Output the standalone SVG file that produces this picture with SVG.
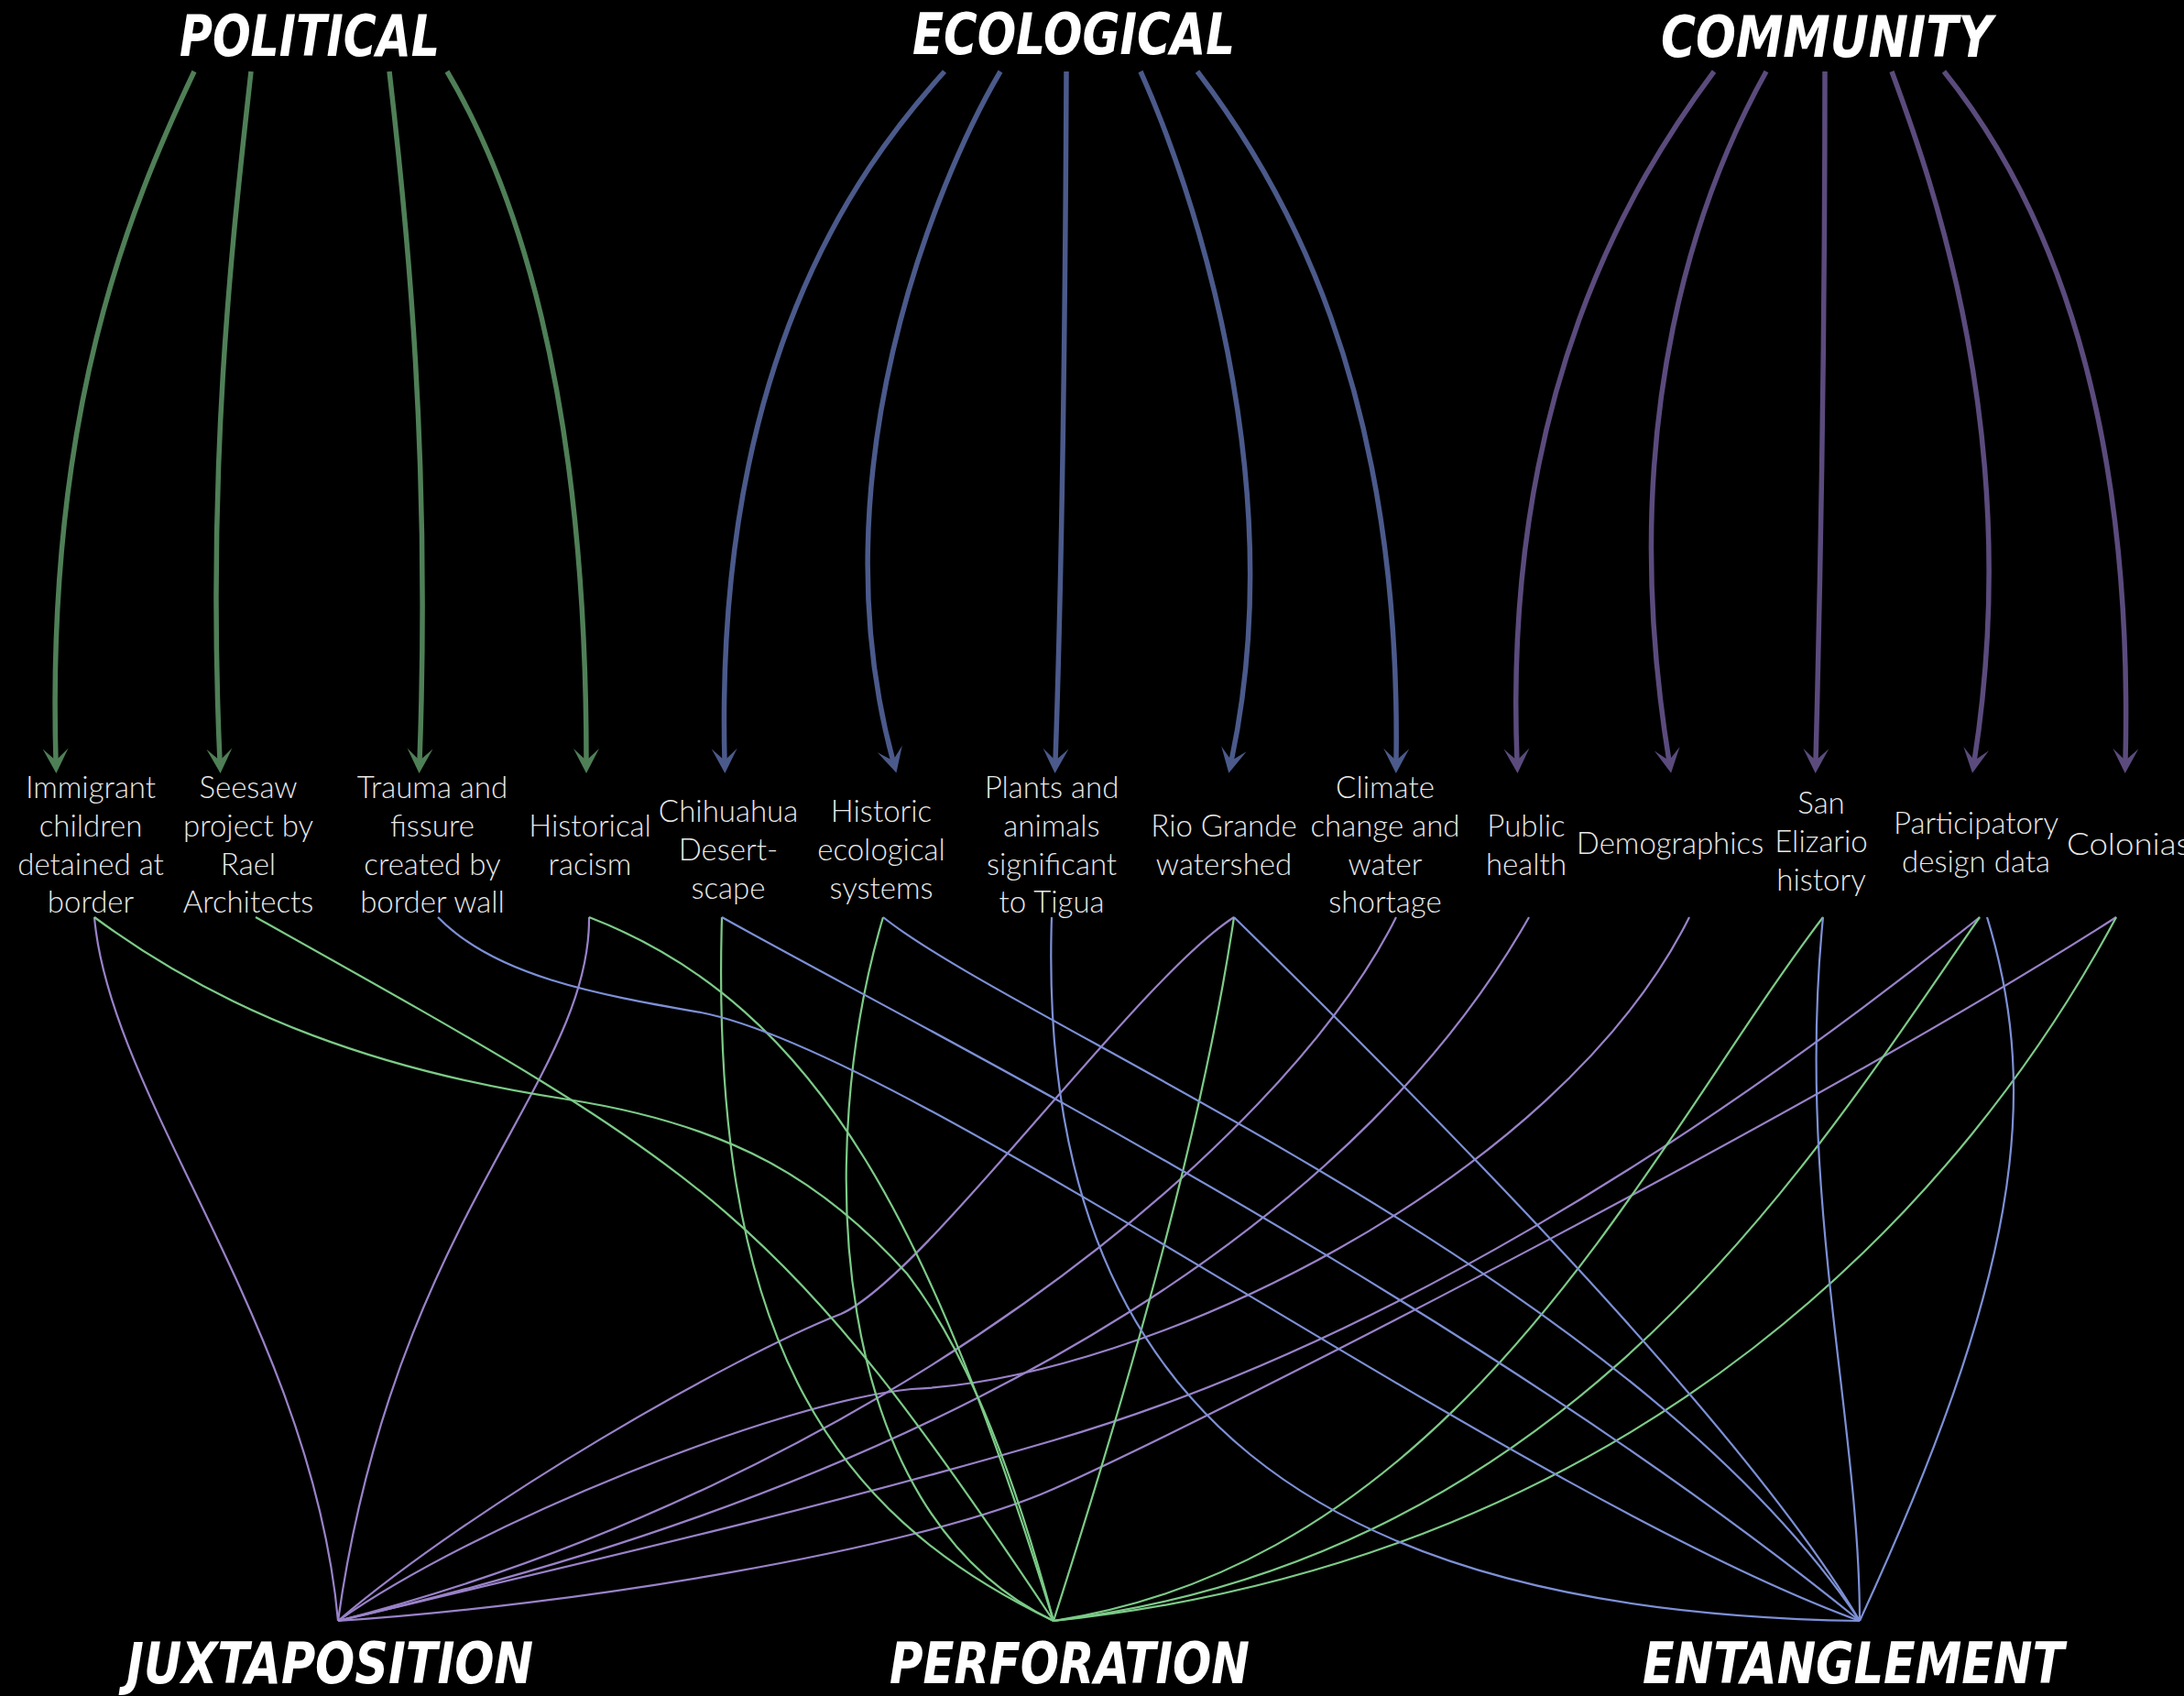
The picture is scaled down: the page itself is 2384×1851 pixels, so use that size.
<svg xmlns="http://www.w3.org/2000/svg" width="2384" height="1851" viewBox="0 0 2384 1851">
<style>
.title{font-family:"Liberation Sans Narrow","DejaVu Sans Condensed","Liberation Sans",sans-serif;font-weight:bold;font-style:italic;font-size:63px;fill:#ffffff}
.lbl{font-family:Lato,"Open Sans","Liberation Sans",sans-serif;font-weight:300;font-size:33px;fill:#e8e8e8;text-anchor:middle}
.arr{fill:none;stroke-width:5.5}
.pol{stroke:#4f7f57;marker-end:url(#mPol)}
.eco{stroke:#4b5a8b;marker-end:url(#mEco)}
.com{stroke:#5b4b7d;marker-end:url(#mCom)}
.cx{fill:none;stroke-width:2.2}
.j{stroke:#9a82c9}
.p{stroke:#7ccb88}
.e{stroke:#7d90d6}
</style>
<defs>
<marker id="mPol" markerUnits="userSpaceOnUse" viewBox="-30 -16 32 32" markerWidth="32" markerHeight="32" refX="-13" refY="0" orient="auto"><path d="M0,0 L-27,-14 L-14,0 L-27,14 Z" fill="#4f7f57"/></marker>
<marker id="mEco" markerUnits="userSpaceOnUse" viewBox="-30 -16 32 32" markerWidth="32" markerHeight="32" refX="-13" refY="0" orient="auto"><path d="M0,0 L-27,-14 L-14,0 L-27,14 Z" fill="#4b5a8b"/></marker>
<marker id="mCom" markerUnits="userSpaceOnUse" viewBox="-30 -16 32 32" markerWidth="32" markerHeight="32" refX="-13" refY="0" orient="auto"><path d="M0,0 L-27,-14 L-14,0 L-27,14 Z" fill="#5b4b7d"/></marker>
</defs>
<rect x="0" y="0" width="2384" height="1851" fill="#000000"/>

<g id="connectors">
  <g id="theme-arrows">
    <path class="arr pol" d="M212,78 C140,230 50,450 61,831"/>
    <path class="arr pol" d="M274,78 C255,250 225,500 240,831"/>
    <path class="arr pol" d="M425,78 C445,250 470,500 458,831"/>
    <path class="arr pol" d="M488,78 C560,200 640,420 640,831"/>
    <path class="arr eco" d="M1031,78 C930,190 780,400 791,831"/>
    <path class="arr eco" d="M1092,78 C1020,200 890,520 975,831"/>
    <path class="arr eco" d="M1164,78 C1163,300 1160,600 1152,831"/>
    <path class="arr eco" d="M1245,78 C1300,200 1410,520 1344,831"/>
    <path class="arr eco" d="M1307,78 C1400,200 1530,420 1524,831"/>
    <path class="arr com" d="M1871,78 C1780,200 1640,430 1656,831"/>
    <path class="arr com" d="M1928,78 C1860,200 1760,450 1822,831"/>
    <path class="arr com" d="M1992,78 C1992,300 1988,600 1982,831"/>
    <path class="arr com" d="M2065,78 C2110,200 2210,480 2155,831"/>
    <path class="arr com" d="M2122,78 C2220,200 2330,420 2320,831"/>
  </g>
  <g id="to-juxtaposition">
    <path class="cx j" d="M103,1001 C120,1200 340,1450 369,1769"/>
    <path class="cx j" d="M643,1001 C645,1180 430,1330 369,1769"/>
    <path class="cx j" d="M1347,1001 C1240,1070 1010,1393 918,1434 C800,1480 520,1640 369,1769"/>
    <path class="cx j" d="M1524,1001 C1400,1250 950,1620 369,1769"/>
    <path class="cx j" d="M1669,1001 C1500,1300 1100,1600 369,1769"/>
    <path class="cx j" d="M1844,1001 C1700,1290 1250,1505 995,1516 C850,1530 519,1663 369,1769"/>
    <path class="cx j" d="M2161,1001 C1850,1250 1500,1470 1150,1572 C900,1645 669,1698 369,1769"/>
    <path class="cx j" d="M2310,1001 C2000,1200 1350,1535 1150,1625 C1000,1692 619,1753 369,1769"/>
  </g>
  <g id="to-perforation">
    <path class="cx p" d="M103,1001 C250,1110 420,1170 620,1200 C800,1228 900,1290 990,1390 C1060,1480 1110,1620 1150,1769"/>
    <path class="cx p" d="M279,1001 C779,1281 850,1318 1150,1769"/>
    <path class="cx p" d="M643,1001 C900,1100 1020,1350 1150,1769"/>
    <path class="cx p" d="M788,1001 C775,1450 900,1650 1150,1769"/>
    <path class="cx p" d="M964,1001 C890,1250 900,1650 1150,1769"/>
    <path class="cx p" d="M1347,1001 C1310,1250 1220,1550 1150,1769"/>
    <path class="cx p" d="M1990,1001 C1800,1250 1600,1700 1150,1769"/>
    <path class="cx p" d="M2161,1001 C1980,1260 1720,1700 1150,1769"/>
    <path class="cx p" d="M2310,1001 C2150,1300 1800,1700 1150,1769"/>
  </g>
  <g id="to-entanglement">
    <path class="cx e" d="M478,1001 C540,1065 650,1085 765,1105 C1000,1150 1650,1630 2030,1769"/>
    <path class="cx e" d="M788,1001 C1000,1120 1600,1420 2030,1769"/>
    <path class="cx e" d="M964,1001 C1114,1121 1780,1393 2030,1769"/>
    <path class="cx e" d="M1148,1001 C1130,1550 1450,1760 2030,1769"/>
    <path class="cx e" d="M1347,1001 C1550,1200 1900,1550 2030,1769"/>
    <path class="cx e" d="M1990,1001 C1960,1300 2030,1550 2030,1769"/>
    <path class="cx e" d="M2169,1001 C2230,1200 2200,1400 2030,1769"/>
  </g>
</g>

<g id="n-political"><text class="title" x="196" y="61" textLength="284" lengthAdjust="spacingAndGlyphs">POLITICAL</text></g>
<g id="n-ecological"><text class="title" x="996" y="59" textLength="352" lengthAdjust="spacingAndGlyphs">ECOLOGICAL</text></g>
<g id="n-community"><text class="title" x="1813" y="62" textLength="362" lengthAdjust="spacingAndGlyphs">COMMUNITY</text></g>
<g id="n-juxtaposition"><text class="title" x="138" y="1837" textLength="444" lengthAdjust="spacingAndGlyphs">JUXTAPOSITION</text></g>
<g id="n-perforation"><text class="title" x="971" y="1837" textLength="393" lengthAdjust="spacingAndGlyphs">PERFORATION</text></g>
<g id="n-entanglement"><text class="title" x="1793" y="1837" textLength="460" lengthAdjust="spacingAndGlyphs">ENTANGLEMENT</text></g>

<g id="n-immigrant"><text class="lbl" x="99" y="871">Immigrant</text><text class="lbl" x="99" y="913">children</text><text class="lbl" x="99" y="955">detained at</text><text class="lbl" x="99" y="996">border</text></g>
<g id="n-seesaw"><text class="lbl" x="271" y="871">Seesaw</text><text class="lbl" x="271" y="913">project by</text><text class="lbl" x="271" y="955">Rael</text><text class="lbl" x="271" y="996">Architects</text></g>
<g id="n-trauma"><text class="lbl" x="472" y="871">Trauma and</text><text class="lbl" x="472" y="913">fissure</text><text class="lbl" x="472" y="955">created by</text><text class="lbl" x="472" y="996">border wall</text></g>
<g id="n-racism"><text class="lbl" x="644" y="913">Historical</text><text class="lbl" x="644" y="955">racism</text></g>
<g id="n-chihuahua"><text class="lbl" x="795" y="897">Chihuahua</text><text class="lbl" x="795" y="939">Desert-</text><text class="lbl" x="795" y="981">scape</text></g>
<g id="n-historic-eco"><text class="lbl" x="962" y="897">Historic</text><text class="lbl" x="962" y="939">ecological</text><text class="lbl" x="962" y="981">systems</text></g>
<g id="n-plants"><text class="lbl" x="1148" y="871">Plants and</text><text class="lbl" x="1148" y="913">animals</text><text class="lbl" x="1148" y="955">significant</text><text class="lbl" x="1148" y="996">to Tigua</text></g>
<g id="n-rio"><text class="lbl" x="1336" y="913">Rio Grande</text><text class="lbl" x="1336" y="955">watershed</text></g>
<g id="n-climate"><text class="lbl" x="1512" y="871">Climate</text><text class="lbl" x="1512" y="913">change and</text><text class="lbl" x="1512" y="955">water</text><text class="lbl" x="1512" y="996">shortage</text></g>
<g id="n-public-health"><text class="lbl" x="1666" y="913">Public</text><text class="lbl" x="1666" y="955">health</text></g>
<g id="n-demographics"><text class="lbl" x="1823" y="932">Demographics</text></g>
<g id="n-san-elizario"><text class="lbl" x="1988" y="888">San</text><text class="lbl" x="1988" y="930">Elizario</text><text class="lbl" x="1988" y="972">history</text></g>
<g id="n-participatory"><text class="lbl" x="2157" y="910">Participatory</text><text class="lbl" x="2157" y="952">design data</text></g>
<g id="n-colonias"><text class="lbl" x="2256" y="933" style="text-anchor:start" textLength="135" lengthAdjust="spacingAndGlyphs">Colonias</text></g>
</svg>
